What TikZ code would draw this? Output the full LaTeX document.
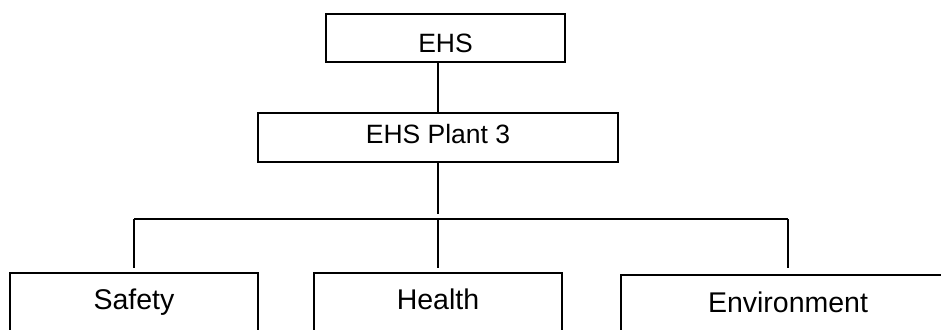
\documentclass[tikz,border=0pt]{standalone}
\usepackage{fontspec}
\setmainfont{Liberation Sans}
\begin{document}
\begin{tikzpicture}[x=1pt,y=-1pt,
  box/.style={draw,line width=1.6pt,rectangle,inner sep=0pt,anchor=north},
  conn/.style={line width=1.6pt}]
\useasboundingbox (0,0) rectangle (941,329);
\clip (0,0) rectangle (941,329);
\fill[white] (0,0) rectangle (941,329);
% top boxes
\node[box,minimum width=239pt,text height=38.7pt,text depth=9.3pt,font=\fontsize{26.5}{30}\selectfont] (ehs) at (445.5,13) {EHS};
\node[box,minimum width=360pt,text height=31pt,text depth=18pt,font=\fontsize{26.5}{30}\selectfont] (plant) at (438,112) {EHS Plant 3};
% bottom boxes (cut by the page edge)
\node[box,minimum width=248pt,text height=37pt,text depth=80pt,font=\fontsize{28.5}{32}\selectfont] (safety) at (134,272) {Safety};
\node[box,minimum width=248pt,text height=37pt,text depth=80pt,font=\fontsize{28.5}{32}\selectfont] (health) at (438,272) {Health};
\node[box,minimum width=334pt,text height=38pt,text depth=80pt,font=\fontsize{28.5}{32}\selectfont] (env) at (788,274) {Environment};
% connectors
\coordinate (bl) at (134,219);
\coordinate (bm) at (438,219);
\coordinate (br) at (788,219);
\coordinate (pdown) at (438,214);
\draw[conn] (plant.north) -- (plant.north |- ehs.south);
\draw[conn] (plant.south) -- (pdown);
\draw[conn] (bl) -- (br);
\draw[conn] (bl) -- ([yshift=4pt]safety.north);
\draw[conn] (bm) -- ([yshift=4pt]health.north);
\draw[conn] (br) -- ([yshift=6pt]env.north);
\end{tikzpicture}
\end{document}
